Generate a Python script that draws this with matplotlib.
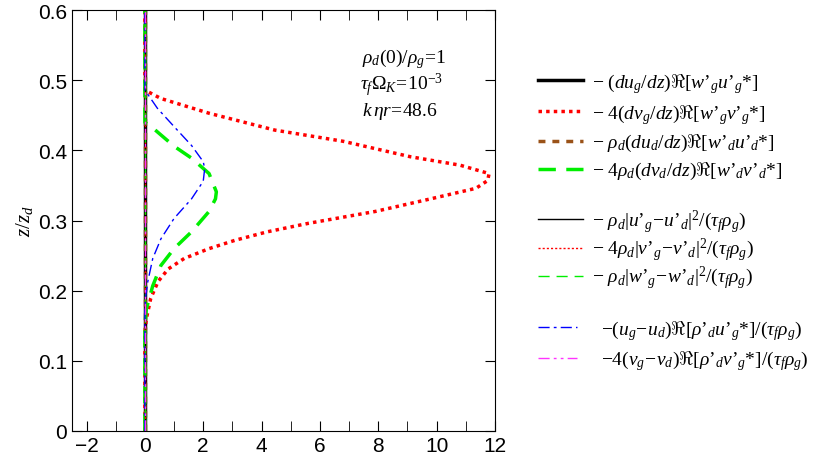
import matplotlib
matplotlib.use("Agg")
import matplotlib.pyplot as plt
from matplotlib.ticker import MultipleLocator

plt.rcParams['mathtext.fontset'] = 'custom'
plt.rcParams['mathtext.rm'] = 'Liberation Serif'
plt.rcParams['mathtext.it'] = 'Liberation Serif:italic'
plt.rcParams['mathtext.cal'] = 'Liberation Serif:italic'

# curves (x value, z/z_d)
z_red = [0, 0.14, 0.16, 0.189, 0.213, 0.231, 0.246, 0.26, 0.272, 0.284, 0.296, 0.313, 0.331,
         0.346, 0.357, 0.367, 0.379, 0.391, 0.413, 0.429, 0.453, 0.474, 0.486, 0.6]
x_red = [0, 0, 0.05, 0.2, 0.45, 0.8, 1.35, 2.2, 3.1, 4.2, 5.6, 7.9, 9.8,
         11.35, 11.75, 11.8, 10.8, 9.1, 6.8, 4.45, 2.2, 0.55, 0, 0]

z_green = [0, 0.15, 0.174, 0.207, 0.236, 0.26, 0.284, 0.313, 0.331, 0.341, 0.367, 0.389,
           0.406, 0.431, 0.44, 0.6]
x_green = [0, 0, 0.05, 0.27, 0.55, 1.0, 1.6, 2.2, 2.42, 2.45, 2.2, 1.6,
           1.0, 0.3, 0, 0]

z_blue = [0, 0.17, 0.189, 0.213, 0.246, 0.274, 0.303, 0.331, 0.356, 0.374, 0.384, 0.407,
          0.434, 0.46, 0.486, 0.6]
x_blue = [0, 0, 0.02, 0.1, 0.27, 0.55, 1.0, 1.6, 2.0, 2.05, 2.0, 1.6,
          1.0, 0.43, 0, 0]

z_zero = [0, 0.6]
x_zero = [0, 0]

labels = [
    r"$-\ (du_g/dz)\Re[w’_g u’_g{*}]$",
    r"$-\ 4(dv_g/dz)\Re[w’_g v’_g{*}]$",
    r"$-\ \rho_d(du_d/dz)\Re[w’_d u’_d{*}]$",
    r"$-\ 4\rho_d(dv_d/dz)\Re[w’_d v’_d{*}]$",
    r"$-\ \rho_d|u’_g\!-\!u’_d|^2/(\tau_f\rho_g)$",
    r"$-\ 4\rho_d|v’_g\!-\!v’_d|^2/(\tau_f\rho_g)$",
    r"$-\ \rho_d|w’_g\!-\!w’_d|^2/(\tau_f\rho_g)$",
    r"$-(u_g\!-\!u_d)\Re[\rho’_d u’_g{*}]/(\tau_f\rho_g)$",
    r"$-4(v_g\!-\!v_d)\Re[\rho’_d v’_g{*}]/(\tau_f\rho_g)$",
]

fig = plt.figure(figsize=(8.3, 4.64), dpi=100)
ax = fig.add_axes([0.0867, 0.069, 0.5096, 0.907])

h = []
h += ax.plot(x_zero, z_zero, color='black', lw=2.5, ls='-')
h += ax.plot(x_red, z_red, color='red', lw=2.5, ls=(0, (1, 1.2)))
h += ax.plot(x_zero, z_zero, color='#9a5218', lw=2.5, ls=(0, (2, 2)))
h += ax.plot(x_green, z_green, color='#00ee00', lw=2.5, ls=(0, (5, 3)))
h += ax.plot(x_zero, z_zero, color='black', lw=1.0, ls='-')
h += ax.plot(x_zero, z_zero, color='red', lw=1.0, ls=(0, (1.5, 1.5)))
h += ax.plot(x_zero, z_zero, color='#00ee00', lw=1.0, ls=(0, (8, 5)))
h += ax.plot(x_blue, z_blue, color='blue', lw=1.0, ls=(0, (8, 3, 2, 3)))
h += ax.plot(x_zero, z_zero, color='#ff33ff', lw=1.0, ls=(0, (8, 3, 2, 3, 2, 3)))

ax.set_xlim(-2.5, 12)
ax.set_ylim(0, 0.6)
ax.xaxis.set_major_locator(MultipleLocator(2))
ax.xaxis.set_minor_locator(MultipleLocator(1))
ax.set_yticks([0, 0.1, 0.2, 0.3, 0.4, 0.5, 0.6])
ax.set_yticklabels(['0', '0.1', '0.2', '0.3', '0.4', '0.5', '0.6'])
ax.tick_params(which='both', direction='in', top=True, right=True, labelsize=15)
ax.tick_params(which='both', length=7)
for lab in ax.get_xticklabels() + ax.get_yticklabels():
    lab.set_family('Liberation Sans')
ax.set_ylabel(r"$z/z_d$", fontsize=15, labelpad=2)

ax.text(0.686, 0.886, r"$\rho_d(0)/\rho_g\!=\!1$", transform=ax.transAxes, fontsize=14, va='center')
ax.text(0.681, 0.824, r"$\tau_f\Omega_K\!=\!10^{-3}$", transform=ax.transAxes, fontsize=14, va='center')
ax.text(0.686, 0.762, r"$k\,\eta r\!=\!48.6$", transform=ax.transAxes, fontsize=14, va='center')

kw = dict(frameon=False, fontsize=14, borderpad=0, borderaxespad=0, loc='upper left')
leg1 = fig.legend(h[0:4], labels[0:4], bbox_to_anchor=(0.648, 0.845),
                  handlelength=2.3, handletextpad=0.5, labelspacing=0.35, **kw)
leg2 = fig.legend(h[4:7], labels[4:7], bbox_to_anchor=(0.648, 0.55),
                  handlelength=2.3, handletextpad=0.5, labelspacing=0.05, **kw)
leg3 = fig.legend(h[7:9], labels[7:9], bbox_to_anchor=(0.648, 0.313),
                  handlelength=2.0, handletextpad=1.25, labelspacing=0.35, **kw)

fig.savefig("out.png", dpi=100)
